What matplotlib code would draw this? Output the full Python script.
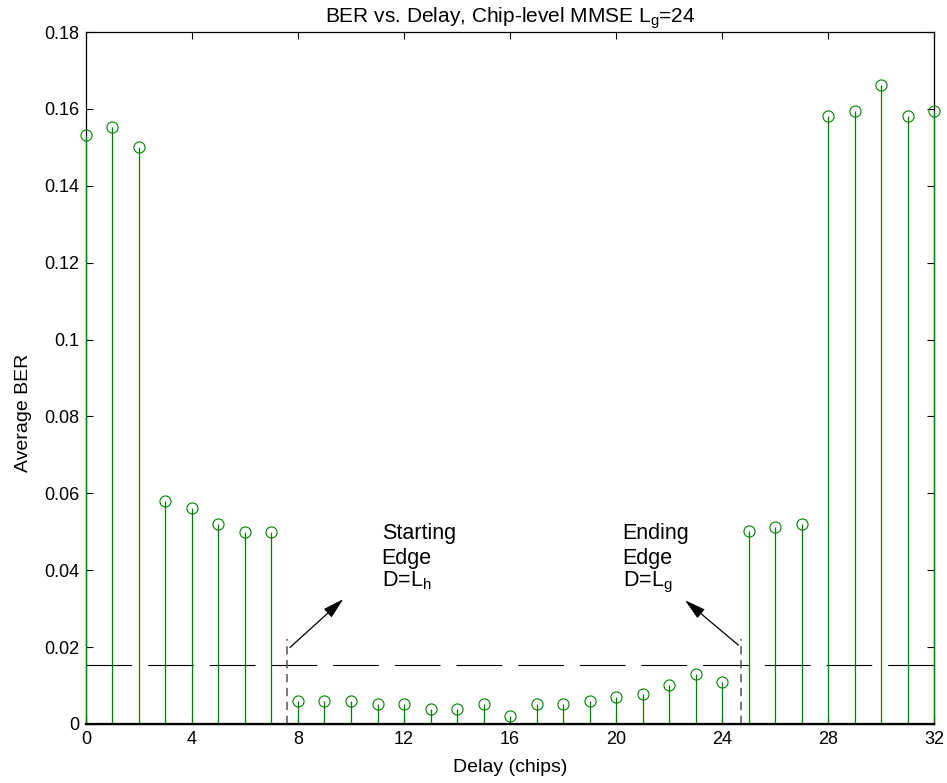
import matplotlib
matplotlib.use("Agg")
import matplotlib.pyplot as plt
import numpy as np

plt.rcParams['font.family'] = ['Liberation Sans', 'DejaVu Sans']
plt.rcParams['mathtext.fontset'] = 'custom'
plt.rcParams['mathtext.rm'] = 'Liberation Sans'
plt.rcParams['mathtext.it'] = 'Liberation Sans'
plt.rcParams['lines.scale_dashes'] = False

# Data
delay = list(range(33))
ber = [0.1533, 0.1552, 0.1502, 0.0580, 0.0561, 0.0519, 0.0499, 0.0499,
       0.0060, 0.0060, 0.0060, 0.0052, 0.0052, 0.0040, 0.0040, 0.0052,
       0.0021, 0.0052, 0.0052, 0.0060, 0.0071, 0.0078, 0.0102, 0.0129,
       0.0108, 0.0501, 0.0513, 0.0519, 0.1582, 0.1594, 0.1662, 0.1582, 0.1594]
threshold = 0.0154
edge_start = 7.57
edge_end = 24.72
edge_top = 0.0222
xticks = [0, 4, 8, 12, 16, 20, 24, 28, 32]
yticks = [0, 0.02, 0.04, 0.06, 0.08, 0.1, 0.12, 0.14, 0.16, 0.18]
ytick_labels = ['0', '0.02', '0.04', '0.06', '0.08', '0.1', '0.12', '0.14', '0.16', '0.18']

green = '#008000'

fig = plt.figure(figsize=(9.47, 7.83), dpi=100)
ax = fig.add_axes([0.0908, 0.0754, 0.8955, 0.8837])

# threshold dashed line
ax.plot([0, 32], [threshold, threshold], color='black', lw=0.8,
        dashes=(32.9, 11.5), zorder=2)

# stems
ax.vlines(delay, 0, ber, colors=green, lw=0.9, zorder=3, clip_on=False)
ax.plot(delay, ber, 'o', mfc='none', mec=green, ms=8, mew=0.8, zorder=4, clip_on=False)
ax.plot([0, 32], [0, 0], color='black', lw=1.6, zorder=5, clip_on=False)

# edge markers
for xe in (edge_start, edge_end):
    ax.plot([xe, xe], [0, edge_top], color='#555555', lw=1.1, dashes=(6, 4), zorder=2)

# arrows
aprops = dict(arrowstyle='-|>,head_length=1.3,head_width=0.35',
              color='black', lw=0.9, shrinkA=0, shrinkB=0)
ax.annotate('', xy=(9.71, 0.0325), xytext=(7.70, 0.0199), arrowprops=aprops)
ax.annotate('', xy=(22.60, 0.0322), xytext=(24.62, 0.0205), arrowprops=aprops)

fs_ann = 15.5
for x0, first, sub in ((11.16, 'Starting', 'h'), (20.25, 'Ending', 'g')):
    ax.text(x0, 0.0482, first, fontsize=fs_ann, va='baseline', ha='left')
    ax.text(x0, 0.0416, 'Edge', fontsize=fs_ann, va='baseline', ha='left')
    ax.text(x0, 0.0359, r'D=L$_{\mathregular{%s}}$' % sub, fontsize=fs_ann,
            va='baseline', ha='left')

ax.set_xlim(0, 32)
ax.set_ylim(0, 0.18)
ax.set_xticks(xticks)
ax.set_yticks(yticks)
ax.set_yticklabels(ytick_labels)
ax.tick_params(direction='in', top=True, right=True, length=5, width=0.8,
               labelsize=13, pad=5)
for s in ax.spines.values():
    s.set_linewidth(0.9)

ax.set_xlabel('Delay (chips)', fontsize=14, labelpad=8)
ax.set_ylabel('Average BER', fontsize=14)
ax.yaxis.set_label_coords(-0.064, 0.45)
ax.set_title(r'BER vs. Delay, Chip-level MMSE L$_{\mathregular{g}}$=24', fontsize=15, pad=7)

fig.savefig('out.png', dpi=100)
